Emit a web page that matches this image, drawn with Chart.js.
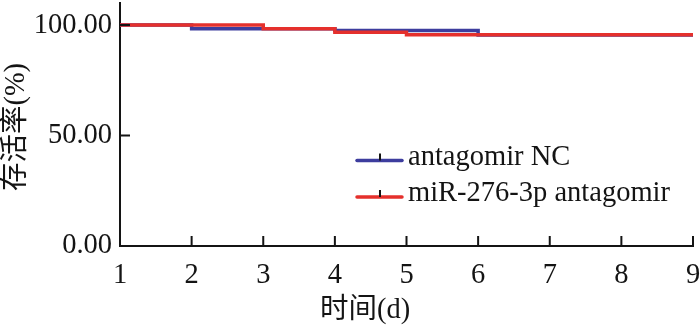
<!DOCTYPE html>
<html>
<head>
<meta charset="utf-8">
<script src="https://cdn.jsdelivr.net/npm/chart.js@4/dist/chart.umd.min.js"></script>
<style>
    html, body { margin: 0; padding: 0; background: #ffffff; }
    #wrap { width: 700px; height: 325px; }
</style>
</head>
<body>
<div id="wrap"><canvas id="chart" width="700" height="325"></canvas></div>
<script>
// Data -----------------------------------------------------------------------------------

var DAYS = [1, 2, 3, 4, 5, 6, 7, 8, 9];
var NC_SURVIVAL = [100, 98.3, 98.3, 97.6, 97.6, 95.5, 95.5, 95.5, 95.5];
var ANTAGOMIR_SURVIVAL = [100, 100, 98.4, 96.8, 95.6, 95.6, 95.6, 95.6, 95.6];
var SERIES_LABELS = ['antagomir NC', 'miR-276-3p antagomir'];
var Y_TICKS = [0, 50, 100];
var X_TITLE = '时间(d)';
var Y_TITLE = '存活率(%)';

// Constants ------------------------------------------------------------------------------

var BLUE = '#3d3d9e';
var RED = '#e5302c';
var INK = '#141414';
var FONT = '"Liberation Serif", "Noto Sans CJK SC", serif';
var FONT_SIZE = 28.5;
var LINE_WIDTH = 3.5;
var TICK_LENGTH = 10;

// Functions ------------------------------------------------------------------------------

function toPoints(xs, ys) {
    return xs.map(function (x, i) { return { x: x, y: ys[i] }; });
}

function zeroPadding(scale) {
    scale.paddingTop = 0;
    scale.paddingBottom = 0;
    scale.paddingLeft = 0;
    scale.paddingRight = 0;
}

// tick marks pointing into the plot
var innerTicksPlugin = {
    id: 'innerTicks',
    afterDraw: function (chart) {
        var ctx = chart.ctx;
        var area = chart.chartArea;
        var xScale = chart.scales.x;
        var yScale = chart.scales.y;
        ctx.save();
        ctx.strokeStyle = INK;
        ctx.lineWidth = 2;
        ctx.beginPath();
        xScale.ticks.forEach(function (t) {
            var px = xScale.getPixelForValue(t.value);
            ctx.moveTo(px, area.bottom);
            ctx.lineTo(px, area.bottom - TICK_LENGTH);
        });
        yScale.ticks.forEach(function (t) {
            var py = yScale.getPixelForValue(t.value);
            ctx.moveTo(area.left, py);
            ctx.lineTo(area.left + TICK_LENGTH, py);
        });
        ctx.stroke();
        ctx.restore();
    }
};

// titles and the inset legend
var extrasPlugin = {
    id: 'extras',
    afterDraw: function (chart) {
        var ctx = chart.ctx;
        ctx.save();
        ctx.fillStyle = INK;
        ctx.font = FONT_SIZE + 'px ' + FONT;
        ctx.textAlign = 'center';
        ctx.textBaseline = 'middle';
        ctx.fillText(X_TITLE, 365, 311);

        ctx.save();
        ctx.translate(17, 127);
        ctx.rotate(-Math.PI / 2);
        ctx.fillText(Y_TITLE, 0, 0);
        ctx.restore();

        var colors = [BLUE, RED];
        ctx.textAlign = 'left';
        SERIES_LABELS.forEach(function (label, i) {
            var y = 160.5 + i * 36.5;
            ctx.strokeStyle = colors[i];
            ctx.lineWidth = LINE_WIDTH;
            ctx.lineCap = 'round';
            ctx.beginPath();
            ctx.moveTo(357, y);
            ctx.lineTo(402, y);
            ctx.stroke();
            ctx.strokeStyle = INK;
            ctx.lineWidth = 2;
            ctx.lineCap = 'butt';
            ctx.beginPath();
            ctx.moveTo(380, y);
            ctx.lineTo(380, y - 7);
            ctx.stroke();
            ctx.fillText(label, 408, y - 3);
        });
        ctx.restore();
    }
};

var datasets = [{
    label: SERIES_LABELS[0],
    data: toPoints(DAYS, NC_SURVIVAL),
    borderColor: BLUE,
    borderWidth: LINE_WIDTH,
    stepped: 'before',
    order: 1
}, {
    label: SERIES_LABELS[1],
    data: toPoints(DAYS, ANTAGOMIR_SURVIVAL),
    borderColor: RED,
    borderWidth: LINE_WIDTH,
    stepped: 'before',
    order: 0
}];

var context = document.getElementById('chart').getContext('2d');

var chart = new Chart(context, {
    type: 'line',
    data: { datasets: datasets },
    options: {
        responsive: false,
        animation: false,
        layout: { padding: { top: 3, right: 7, left: 0, bottom: 0 } },
        elements: { point: { radius: 0 }, line: { tension: 0, fill: false } },
        plugins: {
            legend: { display: false },
            tooltip: { enabled: false }
        },
        scales: {
            x: {
                type: 'linear',
                position: 'bottom',
                min: 1,
                max: 9,
                border: { color: INK, width: 2 },
                grid: { drawOnChartArea: false, drawTicks: false },
                ticks: {
                    stepSize: 1,
                    color: INK,
                    padding: 12,
                    maxRotation: 0,
                    font: { family: FONT, size: FONT_SIZE }
                },
                afterFit: function (scale) {
                    scale.height = 79;
                    zeroPadding(scale);
                }
            },
            y: {
                position: 'left',
                min: 0,
                max: 110,
                border: { color: INK, width: 2 },
                grid: { drawOnChartArea: false, drawTicks: false },
                afterBuildTicks: function (scale) {
                    scale.ticks = Y_TICKS.map(function (v) { return { value: v }; });
                },
                ticks: {
                    color: INK,
                    padding: 8,
                    font: { family: FONT, size: FONT_SIZE },
                    callback: function (value) { return value.toFixed(2); }
                },
                afterFit: function (scale) {
                    scale.width = 120;
                    zeroPadding(scale);
                }
            }
        }
    },
    plugins: [innerTicksPlugin, extrasPlugin]
});
</script>
</body>
</html>
